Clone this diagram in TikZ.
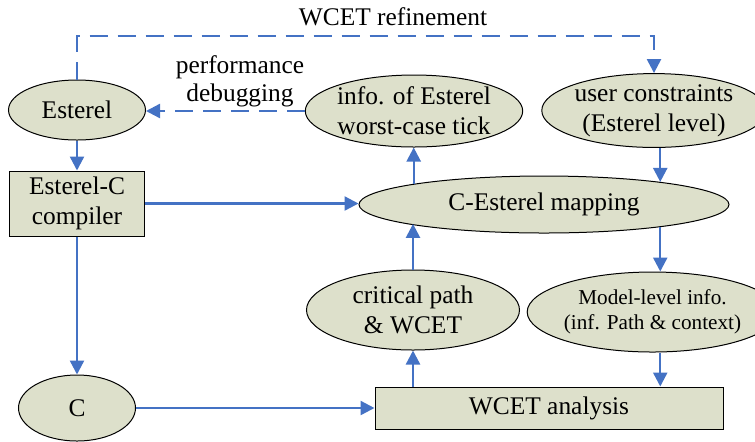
\documentclass[tikz,border=0pt]{standalone}
\usepackage{fontspec}
\setmainfont{Liberation Serif}
\usetikzlibrary{shapes.geometric,arrows.meta}
\definecolor{flowblue}{RGB}{68,114,196}
\definecolor{boxfill}{RGB}{221,224,203}
\tikzset{
  blob/.style={ellipse,draw=black,line width=0.5pt,fill=boxfill,inner sep=0pt,align=center,
               font=\fontsize{12.7}{15}\selectfont},
  block/.style={rectangle,draw=black,line width=0.5pt,fill=boxfill,inner sep=0pt,align=center,
               font=\fontsize{12.7}{15}\selectfont},
  flow/.style={draw=flowblue,line width=1.2pt,-{Triangle[length=7pt,width=7pt]}},
  dflow/.style={flow,dash pattern=on 9pt off 5pt},
  lbl/.style={align=center,font=\fontsize{12.7}{14}\selectfont}
}
\begin{document}
\begin{tikzpicture}[x=0.5pt,y=-0.5pt]
\useasboundingbox (0,0) rectangle (755,441);

% nodes
\node[blob,minimum width=68.5pt,minimum height=30pt] (esterel) at (77,110) {Esterel};
\node[block,minimum width=67.5pt,minimum height=32.5pt] (comp) at (77,203.5) {Esterel-C\\compiler};
\node[blob,minimum width=58.5pt,minimum height=33pt] (cnode) at (77,408) {C};
\node[block,minimum width=174pt,minimum height=21pt] (wcet) at (549,408) {WCET analysis};
\node[blob,minimum width=106.5pt,minimum height=40pt] (crit) at (413,310) {critical path\\\& WCET};
\node[blob,minimum width=102.5pt,minimum height=40pt,font=\fontsize{10.6}{12.5}\selectfont] (model) at (652.5,312) {Model-level info.\\(inf. Path \& context)};
\node[blob,minimum width=185pt,minimum height=28.5pt] (map) at (544,204.5) {C-Esterel mapping};
\node[blob,minimum width=100pt,minimum height=36pt] (tick) at (414,111) {info. of Esterel\\worst-case tick};
\node[blob,minimum width=101pt,minimum height=36.5pt] (user) at (654,110.5) {user constraints\\(Esterel level)};

% labels
\node[lbl] (reflbl) at (393,17) {WCET refinement};
\node[lbl] (dbglbl) at (240,81) {performance\\debugging};

% connectors
\coordinate (reftop) at (360,36);
\draw[dflow] (esterel.north) |- (reftop) -| (user.north);
\draw[dflow] (tick.west) -- (tick.west -| esterel.east);
\draw[flow] (esterel.south) -- (comp.north);
\draw[flow] (comp.south) -- (cnode.north);
\draw[flow] (comp.east) -- (comp.east -| map.west);
\draw[flow] (cnode.east) -- (wcet.west);
\draw[flow] (map.171.1) -- (map.171.1 |- tick.south);
\draw[flow] (user.south -| map.11.6) -- (map.11.6);
\draw[flow] (map.-11.6) -- (map.-11.6 |- model.north);
\draw[flow] (map.-11.6 |- model.south) -- (map.-11.6 |- wcet.north);
\draw[flow] (wcet.north -| crit.south) -- (crit.south);
\draw[flow] (crit.north) -- (crit.north |- map.188.9);
\end{tikzpicture}
\end{document}
